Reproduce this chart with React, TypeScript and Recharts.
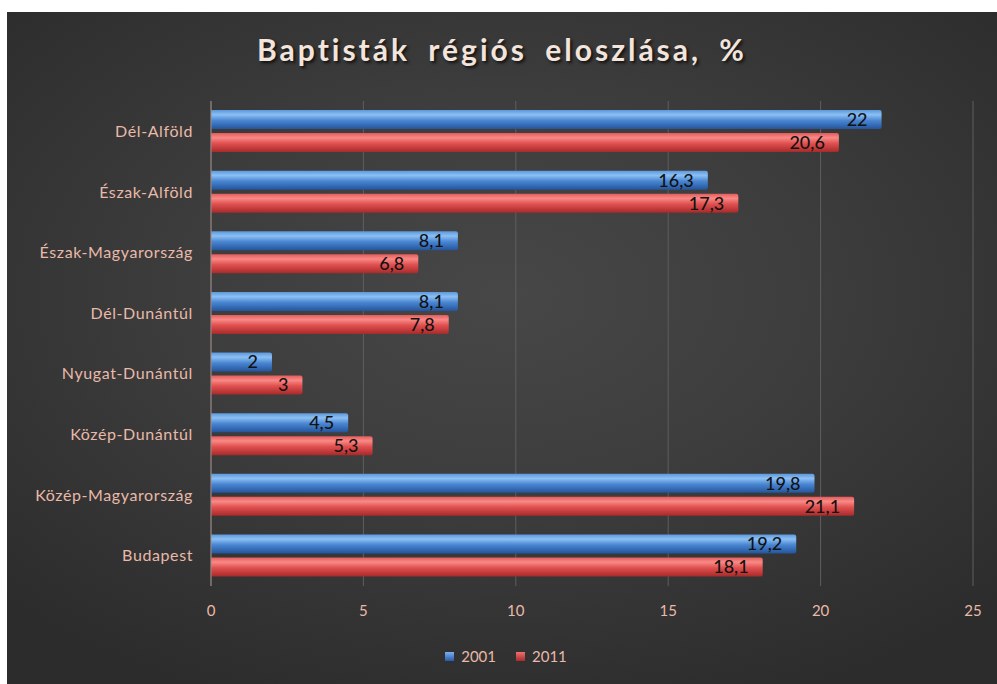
import React from "react";
import { BarChart, Bar, XAxis, YAxis, CartesianGrid, LabelList } from "recharts";

const regions = [
  "Dél-Alföld",
  "Észak-Alföld",
  "Észak-Magyarország",
  "Dél-Dunántúl",
  "Nyugat-Dunántúl",
  "Közép-Dunántúl",
  "Közép-Magyarország",
  "Budapest",
];
const values2001 = [22, 16.3, 8.1, 8.1, 2, 4.5, 19.8, 19.2];
const values2011 = [20.6, 17.3, 6.8, 7.8, 3, 5.3, 21.1, 18.1];
const xTicks = [0, 5, 10, 15, 20, 25];
const seriesNames = ["2001", "2011"];
const title = "Baptisták régiós eloszlása, %";

const data = regions.map((r, i) => ({ region: r, y2001: values2001[i], y2011: values2011[i] }));

const fmt = (v: any) => String(v).replace(".", ",");
const tickColor = "#e9b9a9";
const font = "Lato, 'Open Sans', sans-serif";

export default function App() {
  return (
    <div style={{ position: "absolute", left: 0, top: 0, width: 997, height: 684, background: "#fff", overflow: "hidden" }}>
      <div
        style={{
          position: "absolute",
          left: 7,
          top: 12,
          width: 990,
          height: 672,
          background: "radial-gradient(ellipse 70% 65% at 50% 42%, #474747 0%, #3d3d3d 45%, #2c2c2c 100%)",
          fontFamily: font,
        }}
      >
        <div
          style={{
            position: "absolute",
            left: 0,
            top: 19,
            width: 990,
            textAlign: "center",
            color: "#f3e4dc",
            fontSize: 30,
            fontWeight: 700,
            letterSpacing: 3,
            wordSpacing: 8,
            textShadow: "2px 2px 3px #111",
            fontFamily: font,
          }}
        >
          {title}
        </div>
        <BarChart
          width={990}
          height={672}
          data={data}
          layout="vertical"
          margin={{ top: 89, right: 24, bottom: 68, left: 0 }}
          barSize={19}
          barGap={4}
        >
          <defs>
            <linearGradient id="gBlue" x1="0" y1="0" x2="0" y2="1">
              <stop offset="0%" stopColor="#5b97dc" />
              <stop offset="25%" stopColor="#8cc0f4" />
              <stop offset="55%" stopColor="#4a86d2" />
              <stop offset="100%" stopColor="#24559c" />
            </linearGradient>
            <linearGradient id="gRed" x1="0" y1="0" x2="0" y2="1">
              <stop offset="0%" stopColor="#e45a5a" />
              <stop offset="25%" stopColor="#f88a86" />
              <stop offset="55%" stopColor="#e05050" />
              <stop offset="100%" stopColor="#a82a2a" />
            </linearGradient>
          </defs>
          <CartesianGrid horizontal={false} stroke="#5e5e5e" strokeWidth={1} />
          <XAxis
            type="number"
            domain={[0, 25]}
            ticks={xTicks}
            axisLine={false}
            tickLine={false}
            tickSize={0}
            tickMargin={19}
            height={30}
            tick={{ fill: tickColor, fontSize: 15, fontFamily: font }}
          />
          <YAxis
            type="category"
            dataKey="region"
            width={204}
            axisLine={{ stroke: "#9c8a85" }}
            tickLine={false}
            tickMargin={12}
            tick={{ fill: tickColor, fontSize: 16, letterSpacing: 0.6, fontFamily: font }}
          />
          <Bar dataKey="y2001" name={seriesNames[0]} fill="url(#gBlue)" radius={[0, 2, 2, 0]} isAnimationActive={false}>
            <LabelList dataKey="y2001" position="insideRight" offset={14} formatter={fmt} fill="#121212" fontSize={18} fontWeight={500} fontFamily={font} />
          </Bar>
          <Bar dataKey="y2011" name={seriesNames[1]} fill="url(#gRed)" radius={[0, 2, 2, 0]} isAnimationActive={false}>
            <LabelList dataKey="y2011" position="insideRight" offset={14} formatter={fmt} fill="#121212" fontSize={18} fontWeight={500} fontFamily={font} />
          </Bar>
        </BarChart>
        <div
          style={{
            position: "absolute",
            top: 635,
            left: 0,
            width: 990,
            display: "flex",
            justifyContent: "center",
            alignItems: "center",
            gap: 20,
            color: tickColor,
            fontSize: 15,
            fontFamily: font,
            paddingLeft: 4,
          }}
        >
          {seriesNames.map((n, i) => (
            <div key={n} style={{ display: "flex", alignItems: "center", gap: 7 }}>
              <div
                style={{
                  width: 9,
                  height: 9,
                  background: i === 0 ? "linear-gradient(#7ab0ee, #2a5aa8)" : "linear-gradient(#f07070, #a82a2a)",
                }}
              />
              <span>{n}</span>
            </div>
          ))}
        </div>
      </div>
    </div>
  );
}
